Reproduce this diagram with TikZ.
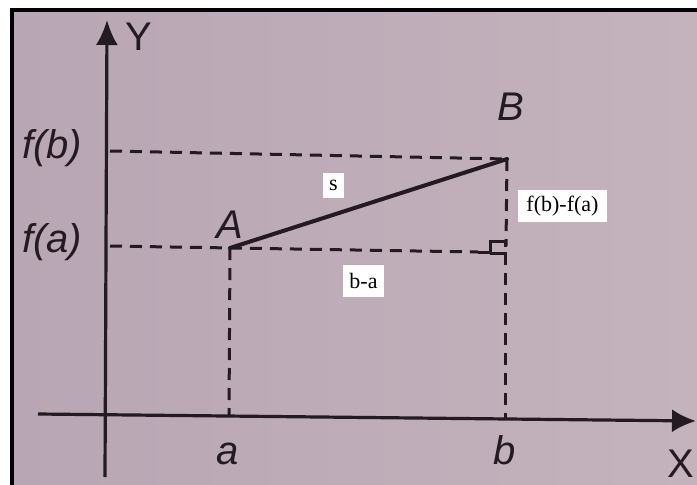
\documentclass[tikz,border=0pt]{standalone}
\usepackage{fontspec}
\setmainfont{Liberation Serif}
\newfontfamily\sansf{Liberation Sans}
\usetikzlibrary{arrows.meta}
\definecolor{paperL}{RGB}{184,166,180}
\definecolor{paperR}{RGB}{196,178,188}
\definecolor{ink}{RGB}{36,26,34}
\begin{document}
\begin{tikzpicture}[x=1pt,y=-1pt,
  axis/.style={draw=ink,line width=3.2pt},
  dashline/.style={draw=ink,line width=3pt,dash pattern=on 12pt off 8pt},
  seg/.style={draw=ink,line width=4pt,line cap=round},
  lbl/.style={font=\sansf\itshape\fontsize{40}{40}\selectfont,text=ink,inner sep=0pt,anchor=base},
  axlbl/.style={font=\sansf\fontsize{40}{40}\selectfont,text=ink,inner sep=0pt,anchor=base},
  tag/.style={fill=white,font=\fontsize{22}{22}\selectfont,text=black,inner sep=0pt,minimum height=32pt}
]
\useasboundingbox (0,0) rectangle (697,485);
\fill[white] (0,0) rectangle (697,485);
\shade[left color=paperL,right color=paperR] (12,10) rectangle (697,485);
\draw[black,line width=4pt] (12,485) -- (12,10) -- (697,10);

% coordinates
\coordinate (ybot) at (105,477);
\coordinate (ytop) at (107,20);
\coordinate (xl) at (38,414);
\coordinate (xr) at (696,421);
\coordinate (A) at (230,248);
\coordinate (B) at (507,159);
\coordinate (fbl) at (110,151);
\coordinate (fal) at (110,246);
\coordinate (far) at (478,252);
\coordinate (bmid) at (506,246);
\coordinate (bcor) at (505,253);
\coordinate (aax) at (229,416);
\coordinate (bax) at (505,419);

% dashed guides
\draw[dashline] (fbl) -- (B);
\draw[dashline] (fal) -- (far);
\draw[dashline] (A) -- (aax);
\draw[dashline] (B) -- (bmid);
\draw[dashline] (bcor) -- (bax);

% right-angle mark
\draw[ink,line width=3pt] (far) -- (490,252) -- (490,241) -- (505,241) -- (505,247);
\draw[ink,line width=3pt] (490,253) -- (bcor) -- (505,262);

% axes
\draw[axis,-{Latex[length=25pt,width=22pt]}] (ybot) -- (ytop);
\draw[axis,-{Latex[length=24pt,width=23pt]}] (xl) -- (xr);

% segment
\draw[seg] (A) -- (B);

% labels
\node[axlbl] (ylab) at (139,50) {Y};
\node[axlbl] (xlab) at (681,477) {X};
\node[lbl] (fblab) at (52,158) {f(b)};
\node[lbl] (falab) at (52,252) {f(a)};
\node[lbl] (Alab) at (230,238) {A};
\node[lbl] (Blab) at (511,120) {B};
\node[lbl] (alab) at (228,464) {a};
\node[lbl] (blab) at (505,464) {b};

% white tags
\node[tag,minimum width=21pt,minimum height=25pt] (s) at (333.5,185.5) {s};
\node[tag,minimum width=89pt] (dy) at (562.5,206) {f(b)-f(a)};
\node[tag,minimum width=41pt] (dx) at (363.5,281) {b-a};
\end{tikzpicture}
\end{document}
